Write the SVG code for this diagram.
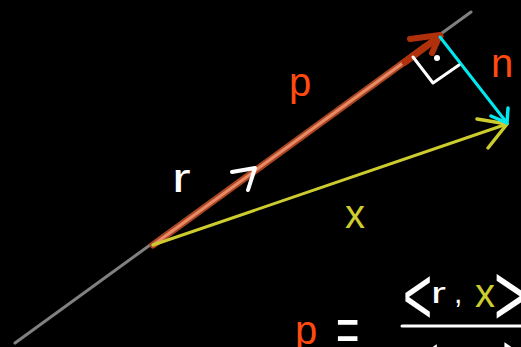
<svg xmlns="http://www.w3.org/2000/svg" width="521" height="347" viewBox="0 0 521 347">
<style>
.t{font-family:"Liberation Sans","DejaVu Sans",sans-serif;}
.s{fill:none;stroke-linecap:round;stroke-linejoin:round;}
.or{fill:#ff4a10;}
.wh{fill:#ffffff;}
.ye{fill:#cccc2e;}
</style>
<rect width="521" height="347" fill="#000"/>
<g id="connectors">
  <line id="axis" class="s" x1="15" y1="343" x2="471" y2="12" stroke="#808080" stroke-width="3"/>
  <g id="vec-p">
    <line class="s" x1="153" y1="245" x2="425" y2="47" stroke="#a8441f" stroke-width="7"/>
    <line class="s" x1="153" y1="245" x2="425" y2="47" stroke="#e88a68" stroke-width="3"/>
    <line class="s" x1="405" y1="62" x2="440" y2="36" stroke="#b0300c" stroke-width="7"/>
    <polyline class="s" points="410,39 440,35 432,53" stroke="#b0300c" stroke-width="6"/>
  </g>
  <g id="vec-r">
    <polyline class="s" points="232,172 255,168 248,190" stroke="#ffffff" stroke-width="4"/>
  </g>
  <g id="vec-x">
    <line class="s" x1="153" y1="245" x2="507" y2="124" stroke="#cccc2e" stroke-width="3"/>
    <polyline class="s" points="477,119 507,124 488,148" stroke="#cccc2e" stroke-width="3.5"/>
  </g>
  <g id="vec-n">
    <line class="s" x1="440" y1="37" x2="507" y2="123" stroke="#00e8f0" stroke-width="3"/>
    <polyline class="s" points="508,108 507,123 491,116" stroke="#00e8f0" stroke-width="3.5"/>
  </g>
  <g id="right-angle">
    <polyline class="s" points="413,57 433,83 459,65" stroke="#ffffff" stroke-width="3"/>
    <circle cx="437" cy="58" r="3" fill="#ffffff"/>
  </g>
</g>
<g id="label-p"><text class="t or" x="289" y="96" font-size="40">p</text></g>
<g id="label-n"><text class="t or" x="491" y="77" font-size="40">n</text></g>
<g id="label-r"><text class="t wh" font-size="40" transform="translate(172 192) scale(1.4 1)">r</text></g>
<g id="label-x"><text class="t ye" x="345" y="228" font-size="40">x</text></g>
<g id="formula">
  <text class="t or" x="295" y="344" font-size="40">p</text>
  <text class="t wh" font-size="40" transform="translate(336 352) scale(1 1.6)">=</text>
  <line x1="402" y1="326" x2="521" y2="326" stroke="#ffffff" stroke-width="3" stroke-linecap="round"/>
  <text class="t wh" font-size="50" transform="translate(403 324) scale(1 1.65)">&lt;</text>
  <text class="t wh" font-size="30" transform="translate(431 303) scale(1.5 1)">r</text>
  <text class="t wh" x="454" y="303" font-size="30">,</text>
  <text class="t ye" x="475" y="307" font-size="40">x</text>
  <text class="t wh" font-size="55" transform="translate(494 325) scale(1 1.6)">&gt;</text>
  <text class="t wh" font-size="50" transform="translate(410 392) scale(1 1.65)">&lt;</text>
  <text class="t wh" font-size="50" transform="translate(502 390) scale(1 1.65)">&gt;</text>
</g>
</svg>
